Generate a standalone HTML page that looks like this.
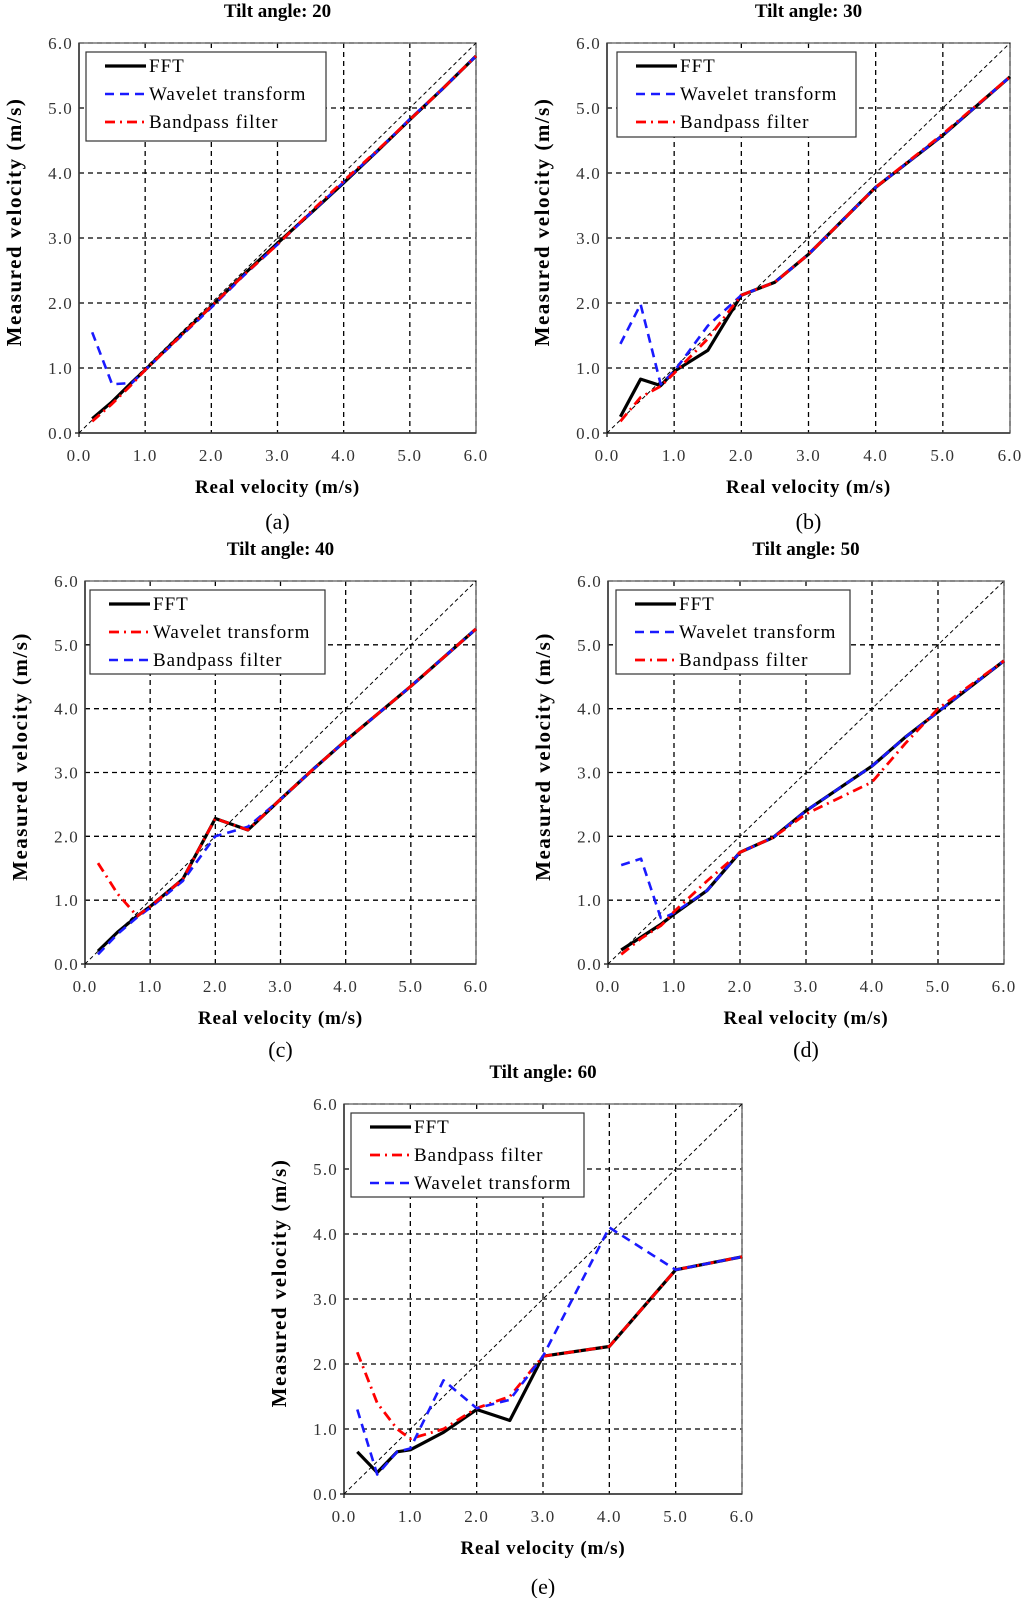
<!DOCTYPE html>
<html><head><meta charset="utf-8"><style>
body{margin:0;background:#fff}
svg{display:block;font-family:"Liberation Serif",serif}
</style></head><body>
<svg id="s" width="1024" height="1598" viewBox="0 0 1024 1598"></svg>
<script>
const ticks=["0.0","1.0","2.0","3.0","4.0","5.0","6.0"];
// panel a
const xa=[0.2,0.5,0.8,1.0,1.5,2.0,2.5,3.0,3.5,4.0,4.5,5.0,5.5,6.0];
const aFFT=[0.22,0.48,0.78,0.97,1.47,1.95,2.45,2.92,3.38,3.85,4.33,4.82,5.3,5.8];
const aWav=[1.55,0.75,0.77,0.97,1.45,1.93,2.43,2.9,3.38,3.86,4.33,4.83,5.3,5.8];
const aBand=[0.18,0.45,0.75,0.97,1.46,1.95,2.44,2.9,3.4,3.88,4.34,4.82,5.3,5.8];
// panel b
const xb=[0.2,0.5,0.8,1.0,1.5,2.0,2.5,3.0,4.0,5.0,6.0];
const bFFT=[0.25,0.83,0.73,0.95,1.27,2.12,2.32,2.75,3.78,4.58,5.48];
const bWav=[1.37,1.98,0.75,0.95,1.65,2.12,2.32,2.75,3.78,4.58,5.48];
const bBand=[0.18,0.55,0.72,0.92,1.45,2.12,2.32,2.75,3.78,4.6,5.48];
// panel c
const xc=[0.2,0.5,0.8,1.0,1.5,2.0,2.5,3.0,3.5,4.0,5.0,6.0];
const cFFT=[0.2,0.5,0.75,0.9,1.33,2.28,2.1,2.58,3.05,3.5,4.35,5.25];
const cWav=[1.58,1.1,0.75,0.9,1.33,2.28,2.1,2.58,3.05,3.5,4.35,5.25];
const cBand=[0.15,0.47,0.73,0.88,1.3,2.0,2.15,2.58,3.05,3.5,4.35,5.25];
// panel d
const xd=[0.2,0.5,0.8,0.9,1.0,1.5,2.0,2.5,3.0,4.0,4.5,5.0,6.0];
const dFFT=[0.22,0.42,0.62,0.7,0.78,1.15,1.75,1.98,2.4,3.1,3.55,3.95,4.75];
const dWav=[1.55,1.65,0.72,0.75,0.8,1.15,1.75,1.98,2.4,3.1,3.55,3.95,4.75];
const dBand=[0.15,0.4,0.6,0.7,0.82,1.3,1.75,1.98,2.35,2.85,3.45,4.0,4.75];
// panel e
const xe=[0.2,0.5,0.8,1.0,1.5,2.0,2.5,3.0,4.0,5.0,6.0];
const eFFT=[0.65,0.33,0.65,0.68,0.95,1.3,1.13,2.12,2.27,3.45,3.65];
const eBand=[2.18,1.4,1.0,0.85,1.0,1.32,1.5,2.12,2.27,3.45,3.65];
const eWav=[1.3,0.3,0.65,0.7,1.75,1.32,1.45,2.12,4.1,3.45,3.65];

const NS="http://www.w3.org/2000/svg";
const svg=document.getElementById('s');
function mk(tag,at,parent){const e=document.createElementNS(NS,tag);for(const k in at)e.setAttribute(k,at[k]);(parent||svg).appendChild(e);return e;}
const STY={
 fft:{stroke:"#000","stroke-width":3.2},
 wav:{stroke:"#1a1aff","stroke-width":2.6,"stroke-dasharray":"9,6"},
 band:{stroke:"#ff0000","stroke-width":2.8,"stroke-dasharray":"10,5,2,5"}
};
function panel(id,title,letter,x0,x6,y6,y0,xs,series,legend,lg,labY){
 const g=mk('g',{});
 
 
 const X=v=>x0+(x6-x0)*v/6, Y=v=>y0-(y0-y6)*v/6;
 for(let i=1;i<=6;i++){
  const gl=mk('line',{x1:X(i),x2:X(i),y1:y6,y2:y0,stroke:"#000","stroke-width":1.3,"stroke-dasharray":"5,4"},g);
  
  
  const hl=mk('line',{x1:x0,x2:x6,y1:Y(i),y2:Y(i),stroke:"#000","stroke-width":1.3,"stroke-dasharray":"5,4"},g);
  
  
 }
 const fr=mk('rect',{x:x0,y:y6,width:x6-x0,height:y0-y6,fill:"none",stroke:"#777","stroke-width":1.5},g);
 
 
 mk('line',{x1:x0,x2:x0,y1:y6,y2:y0+4,stroke:"#333","stroke-width":1.5},g);
 mk('line',{x1:x0-4,x2:x6,y1:y0,y2:y0,stroke:"#333","stroke-width":1.5},g);
 const dg=mk('line',{x1:X(0),y1:Y(0),x2:X(6),y2:Y(6),stroke:"#000","stroke-width":1,"stroke-dasharray":"4,3"},g);
 
 
 ticks.forEach((t,i)=>{
  const a=mk('text',{x:X(i),y:y0+28,"text-anchor":"middle","font-size":17,"letter-spacing":1.2,fill:"#333"},g);a.textContent=t;
  
  
  const b=mk('text',{x:x0-6,y:Y(i)+6,"text-anchor":"end","font-size":17,"letter-spacing":1.2,fill:"#333"},g);b.textContent=t;
  
  
 });
 series.forEach(s=>{
  const pts=xs.map((x,i)=>X(x).toFixed(1)+","+Y(s.v[i]).toFixed(1)).join(" ");
  const p=mk('polyline',Object.assign({points:pts,fill:"none","stroke-linejoin":"round"},STY[s.k]),g);
  
  
 });
 const L=mk('g',{},g);
 
 
 mk('rect',{x:lg[0],y:lg[1],width:lg[2]-lg[0],height:lg[3]-lg[1],fill:"#fff",stroke:"#333","stroke-width":1.2},L);
 legend.forEach((it,i)=>{
  const yy=lg[1]+14+i*28;
  mk('line',Object.assign({x1:lg[0]+19,x2:lg[0]+60,y1:yy,y2:yy},STY[it.k]),L);
  const t=mk('text',{x:lg[0]+63,y:yy+6,"font-size":19,"letter-spacing":1},L);t.textContent=it.t;
  
  
 });
 const cx=(x0+x6)/2;
 const tt=mk('text',{x:cx,y:y6-26,"text-anchor":"middle","font-size":19,"font-weight":"bold"},g);tt.textContent=title;
 
 
 const xt=mk('text',{x:cx,y:y0+60,"text-anchor":"middle","font-size":19,"letter-spacing":0.8,"font-weight":"bold"},g);xt.textContent="Real velocity (m/s)";
 
 
 const yx=x0-58, yc=(y6+y0)/2-16;
 const yt=mk('text',{x:yx,y:yc,"text-anchor":"middle","font-size":21,"letter-spacing":1.5,"font-weight":"bold",transform:`rotate(-90 ${yx} ${yc})`},g);yt.textContent="Measured velocity (m/s)";
 
 
 const pl=mk('text',{x:cx,y:labY,"text-anchor":"middle","font-size":22},g);pl.textContent="("+letter+")";
 
 
}
panel('a','Tilt angle: 20','a',79,476,43,433,xa,
 [{k:'fft',v:aFFT},{k:'wav',v:aWav},{k:'band',v:aBand}],
 [{k:'fft',t:'FFT'},{k:'wav',t:'Wavelet transform'},{k:'band',t:'Bandpass filter'}],[86,52,326,141],529);
panel('b','Tilt angle: 30','b',607,1010,43,433,xb,
 [{k:'fft',v:bFFT},{k:'wav',v:bWav},{k:'band',v:bBand}],
 [{k:'fft',t:'FFT'},{k:'wav',t:'Wavelet transform'},{k:'band',t:'Bandpass filter'}],[617,52,856,137],529);
panel('c','Tilt angle: 40','c',85,476,581,964,xc,
 [{k:'fft',v:cFFT},{k:'wav',v:cBand},{k:'band',v:cWav}],
 [{k:'fft',t:'FFT'},{k:'band',t:'Wavelet transform'},{k:'wav',t:'Bandpass filter'}],[90,590,325,674],1057);
panel('d','Tilt angle: 50','d',608,1004,581,964,xd,
 [{k:'fft',v:dFFT},{k:'wav',v:dWav},{k:'band',v:dBand}],
 [{k:'fft',t:'FFT'},{k:'wav',t:'Wavelet transform'},{k:'band',t:'Bandpass filter'}],[616,590,850,674],1057);
panel('e','Tilt angle: 60','e',344,742,1104,1494,xe,
 [{k:'fft',v:eFFT},{k:'band',v:eBand},{k:'wav',v:eWav}],
 [{k:'fft',t:'FFT'},{k:'band',t:'Bandpass filter'},{k:'wav',t:'Wavelet transform'}],[351,1113,584,1197],1594);
</script>
</body></html>
